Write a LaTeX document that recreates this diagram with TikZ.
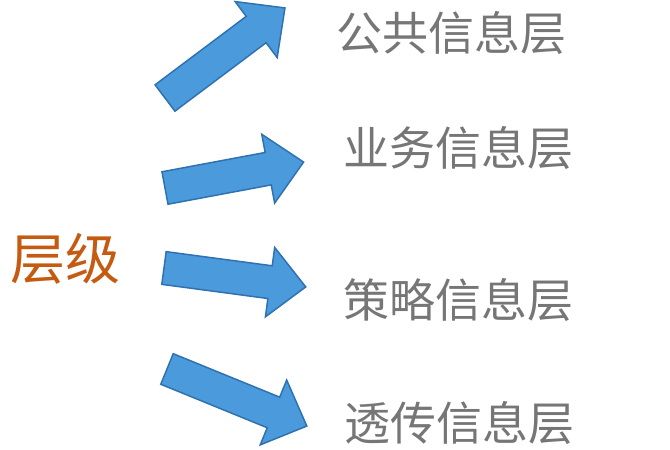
\documentclass[tikz,border=0pt]{standalone}
\usepackage{fontspec}
\newfontfamily\cjk{Noto Sans CJK SC}
\definecolor{arrowblue}{HTML}{4B9BDC}
\definecolor{arrowedge}{HTML}{2F72B0}
\definecolor{labelgrey}{HTML}{767676}
\definecolor{levelorange}{HTML}{C55A11}
\tikzset{
  blockarrow/.style={fill=arrowblue, draw=arrowedge, line width=1.5pt, line join=miter},
  layer/.style={anchor=base west, inner sep=0pt, text=labelgrey, font=\cjk\fontsize{46}{46}\selectfont},
  level/.style={anchor=base west, inner sep=0pt, text=levelorange, font=\cjk\fontsize{55}{55}\selectfont}
}
\begin{document}
\begin{tikzpicture}[x=1pt,y=-1pt]
\useasboundingbox (0,0) rectangle (670,450);

\node[level] (lvl) at (10,279) {层级};

\node[layer] (pub) at (336,50) {公共信息层};
\node[layer] (biz) at (343,165) {业务信息层};
\node[layer] (pol) at (343,317) {策略信息层};
\node[layer] (pass) at (344,440) {透传信息层};

% block arrows: tail / angle / length
\foreach \tx/\ty/\ang/\len in {165/98/36.9/150, 165/188/10.6/141, 164/268/-7.6/143, 167/369/-22.2/151}{
  \begin{scope}[shift={(\tx,\ty)}, rotate=\ang]
    \draw[blockarrow] (0,-16.5) -- (\len-36,-16.5) -- (\len-36,-35) -- (\len,0)
      -- (\len-36,35) -- (\len-36,16.5) -- (0,16.5) -- cycle;
  \end{scope}
}

\end{tikzpicture}
\end{document}
